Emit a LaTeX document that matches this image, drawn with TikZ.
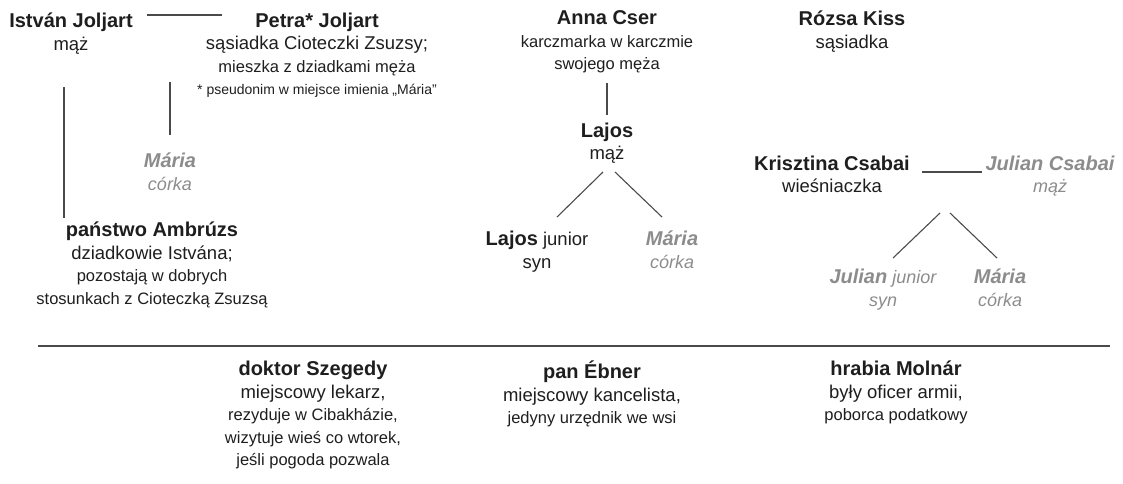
\documentclass[tikz,border=0pt]{standalone}
\usepackage{fontspec}
\setmainfont{Liberation Sans}
\definecolor{ink}{HTML}{1E1E1E}
\definecolor{greyt}{HTML}{8C8C8C}
\definecolor{linec}{HTML}{4A4A4A}
\newcommand\pname[1]{{\fontsize{20}{22.5}\selectfont\bfseries #1}}
\newcommand\psmall[1]{{\fontsize{16.5}{21.5}\selectfont #1}}
\newcommand\pfoot[1]{{\fontsize{14}{21}\selectfont #1}}
\newcommand\gname[1]{{\color{greyt}\fontsize{20}{22.5}\selectfont\bfseries\itshape #1}}
\newcommand\gsub[1]{{\color{greyt}\fontsize{18}{22.5}\selectfont\itshape #1}}
\begin{document}
\begin{tikzpicture}[x=1pt,y=-1pt,
  every node/.style={inner sep=0pt, outer sep=0pt, align=center, anchor=north, text=ink},
  person/.style={font=\fontsize{18.5}{22.5}\selectfont},
  link/.style={draw=linec, line width=1.1pt}]
\useasboundingbox (0,0) rectangle (1123,483);
% top row
\node[person] (istvan) at (71,13) {\pname{István Joljart}\\mąż};
\node[person] (petra) at (317,13) {\pname{Petra* Joljart}\\sąsiadka Cioteczki Zsuzsy;\\\psmall{mieszka z dziadkami męża}\\\pfoot{* pseudonim w miejsce imienia „Mária”}};
\node[person] (maria1) at (170,153) {\gname{Mária}\\\gsub{córka}};
\node[person] (ambruzs) at (152,222) {\pname{państwo Ambrúzs}\\dziadkowie Istvána;\\\psmall{pozostają w dobrych}\\\psmall{stosunkach z Cioteczką Zsuzsą}};
\node[person] (anna) at (607,11) {\pname{Anna Cser}\\\psmall{karczmarka w karczmie}\\\psmall{swojego męża}};
\node[person] (lajos) at (607,123) {\pname{Lajos}\\mąż};
\node[person] (lajosjr) at (537,231) {\pname{Lajos} junior\\syn};
\node[person] (maria2) at (672,231) {\gname{Mária}\\\gsub{córka}};
\node[person] (rozsa) at (852,11) {\pname{Rózsa Kiss}\\sąsiadka};
\node[person] (krisztina) at (832,156) {\pname{Krisztina Csabai}\\wieśniaczka};
\node[person] (julian) at (1050,156) {\gname{Julian Csabai}\\\gsub{mąż}};
\node[person] (julianjr) at (883,269) {\gname{Julian} \gsub{junior}\\\gsub{syn}};
\node[person] (maria3) at (1000,269) {\gname{Mária}\\\gsub{córka}};
% bottom row
\node[person] (szegedy) at (313,361) {\pname{doktor Szegedy}\\miejscowy lekarz,\\\psmall{rezyduje w Cibakházie,}\\\psmall{wizytuje wieś co wtorek,}\\\psmall{jeśli pogoda pozwala}};
\node[person] (ebner) at (592,361) {\pname{pan Ébner}\\miejscowy kancelista,\\\psmall{jedyny urzędnik we wsi}};
\node[person] (molnar) at (896,361) {\pname{hrabia Molnár}\\były oficer armii,\\\psmall{poborca podatkowy}};
% connectors
\coordinate (m1) at (147,15); \coordinate (m2) at (222,15);
\draw[link] (m1) -- (m2);
\coordinate (i1) at (64,87); \coordinate (i2) at (64,218);
\draw[link] (i1) -- (i2);
\coordinate (p1) at (170,82); \coordinate (p2) at (170,135);
\draw[link] (p1) -- (p2);
\coordinate (a1) at (607,83); \coordinate (a2) at (607,115);
\draw[link] (a1) -- (a2);
\coordinate (l1) at (603,172); \coordinate (l2) at (557,217);
\coordinate (l3) at (615,172); \coordinate (l4) at (662,217);
\draw[link] (l1) -- (l2);
\draw[link] (l3) -- (l4);
\coordinate (k1) at (922,172); \coordinate (k2) at (982,172);
\draw[link] (k1) -- (k2);
\coordinate (c1) at (940,213); \coordinate (c2) at (893,258);
\coordinate (c3) at (950,213); \coordinate (c4) at (997,258);
\draw[link] (c1) -- (c2);
\draw[link] (c3) -- (c4);
\coordinate (r1) at (38,346); \coordinate (r2) at (1110,346);
\draw[link] (r1) -- (r2);
\end{tikzpicture}
\end{document}
